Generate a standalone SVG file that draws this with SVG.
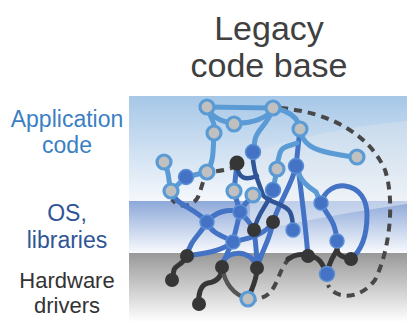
<svg xmlns="http://www.w3.org/2000/svg" width="407" height="322" viewBox="0 0 407 322">
<defs>
<linearGradient id="gApp" x1="0" y1="0" x2="0" y2="1"><stop offset="0" stop-color="#a6c7e7"/><stop offset="1" stop-color="#f5f8fc"/></linearGradient>
<linearGradient id="gOS" x1="0" y1="0" x2="0" y2="1"><stop offset="0" stop-color="#8da8d9"/><stop offset="1" stop-color="#f8fafd"/></linearGradient>
<linearGradient id="gHW" x1="0" y1="0" x2="0" y2="1"><stop offset="0" stop-color="#989898"/><stop offset="1" stop-color="#ffffff"/></linearGradient>
<style>
.t{font-family:"Liberation Sans",Arial,sans-serif;text-anchor:middle}
.lb{fill:none;stroke:#5b9bd5;stroke-width:5;stroke-linecap:round}
.mb{fill:none;stroke:#4472c4;stroke-width:5;stroke-linecap:round}
.nv{fill:none;stroke:#2f5597;stroke-width:4.5;stroke-linecap:round}
.dk{fill:none;stroke:#363636;stroke-width:5;stroke-linecap:round}
.dg{fill:none;stroke:#555;stroke-width:4.5;stroke-linecap:round}
.ds{fill:none;stroke:#484848;stroke-width:4;stroke-dasharray:8 6}
.a{fill:#c0c0c0;stroke:#5b9bd5;stroke-width:3.2}
.b{fill:#4472c4;stroke:#5a8fd6;stroke-width:1.5}
.d{fill:#363636}
</style>
</defs>
<g id="background">
<rect x="129" y="96" width="278" height="105" fill="url(#gApp)"/>
<path d="M260,150 Q330,128 407,121 L407,201 L260,201 Z" fill="#e3e9ee" opacity="0.35"/>
<rect x="129" y="201" width="278" height="52" fill="url(#gOS)"/>
<path d="M250,201 L407,201 L407,204 Q350,212 300,222 Q270,228 250,230 Z" fill="#e6ecf5" opacity="0.55"/>
<rect x="129" y="253" width="278" height="69" fill="url(#gHW)"/>
</g>
<g id="title">
<text class="t" x="269" y="40" font-size="34" fill="#404040">Legacy</text>
<text class="t" x="269" y="77" font-size="34" fill="#404040">code base</text>
</g>
<g id="labels">
<text class="t" x="67" y="127" font-size="23" fill="#3b7fc4">Application</text>
<text class="t" x="67" y="153" font-size="23" fill="#3b7fc4">code</text>
<text class="t" x="67" y="221" font-size="23" fill="#2f5597">OS,</text>
<text class="t" x="67" y="248" font-size="23" fill="#2f5597">libraries</text>
<text class="t" x="67" y="288" font-size="22" fill="#333">Hardware</text>
<text class="t" x="67" y="313" font-size="22" fill="#333">drivers</text>
</g>
<g id="connectors">
<path class="ds" d="M280,108 C330,112 370,135 385,170 C395,200 390,250 375,280 C360,300 335,300 328,285"/>
<path class="ds" d="M237,165 C230,170 220,171 207,172 C203,180 201,190 198,197 C195,203 188,207 180,205 C176,204 173,201 172,199"/>
<path class="ds" d="M290,258 C282,265 280,275 275,285 C270,295 265,298 252,300"/>
<path class="dk" d="M187,256 C183,265 175,265 174,270 L172,280"/>
<path class="dk" d="M222,267 C222,278 215,282 208,283 C200,285 198,295 199,304"/>
<path class="dg" d="M222,267 C225,285 235,295 248,299"/>
<path class="dk" d="M257,268 C257,280 252,288 248,299"/>
<path class="dk" d="M308,256 C300,253 295,255 288,259"/>
<path class="dk" d="M308,256 C318,256 322,262 327,274"/>
<path class="dk" d="M337,241 L337,250 C337,255 345,258 351,259"/>
<path class="dk" d="M337,250 C333,257 329,262 327,274"/>
<path class="mb" d="M300,129 L296,166"/>
<path class="mb" d="M296,166 C292,185 280,200 273,222"/>
<path class="mb" d="M298,166 C302,200 305,220 308,256"/>
<path class="mb" d="M321,203 C325,190 335,185 345,186 C360,188 367,200 367,215 C367,235 362,250 351,259"/>
<path class="mb" d="M321,203 C326,215 335,218 337,241"/>
<path class="mb" d="M171,191 C175,205 195,208 207,222"/>
<path class="mb" d="M207,222 C200,235 190,240 187,256"/>
<path class="mb" d="M207,222 C215,212 228,208 240,212"/>
<path class="mb" d="M207,222 C212,235 225,236 233,242"/>
<path class="mb" d="M187,256 C205,253 220,252 233,242"/>
<path class="mb" d="M234,191 L240,212"/>
<path class="mb" d="M253,195 C248,200 244,205 240,212"/>
<path class="mb" d="M240,212 C238,222 235,232 233,242"/>
<path class="mb" d="M240,212 C246,218 250,222 254,230"/>
<path class="mb" d="M233,242 C250,238 265,235 273,222"/>
<path class="mb" d="M233,242 C228,250 225,258 222,267"/>
<path class="mb" d="M222,264 C226,250 252,248 257,268"/>
<path class="mb" d="M254,230 C256,245 257,255 257,268"/>
<path class="mb" d="M273,222 C270,240 262,250 257,268"/>
<path class="mb" d="M237,163 L234,191"/>
<path class="nv" d="M237,165 C238,178 245,181 257,176"/>
<path class="nv" d="M253,152 C252,170 258,180 263,195 C268,203 285,203 290,212 C293,218 293,224 293,230"/>
<path class="nv" d="M273,190 C268,205 258,212 254,230"/>
<path class="lb" d="M207,107 L273,108"/>
<path class="lb" d="M207,107 C212,118 222,122 234,123 C252,124 268,118 273,108"/>
<path class="lb" d="M207,107 C210,118 216,122 214,133"/>
<path class="lb" d="M214,133 C213,150 214,162 207,172"/>
<path class="lb" d="M207,172 L186,177"/>
<path class="lb" d="M164,162 C170,172 168,182 171,191"/>
<path class="lb" d="M186,177 L171,191"/>
<path class="lb" d="M273,108 C268,125 256,130 255,140 L253,152"/>
<path class="lb" d="M273,108 C285,110 298,115 300,129"/>
<path class="lb" d="M300,129 C302,145 315,150 330,153 C345,156 350,157 357,157"/>
<path class="lb" d="M297,143 C290,146 282,146 280,153 C278,160 277,163 277,169"/>
<path class="lb" d="M277,169 L273,190"/>
<path class="lb" d="M296,166 C300,182 310,188 316,192 L321,203"/>
</g>
<g id="nodes">
<g id="app-nodes">
<circle class="a" cx="207" cy="107" r="7"/>
<circle class="a" cx="273" cy="108" r="7"/>
<circle class="a" cx="234" cy="124" r="7"/>
<circle class="a" cx="214" cy="133" r="7"/>
<circle class="a" cx="300" cy="129" r="7"/>
<circle class="a" cx="357" cy="157" r="7"/>
<circle class="a" cx="164" cy="162" r="7"/>
<circle class="a" cx="207" cy="172" r="7"/>
<circle class="a" cx="171" cy="191" r="7"/>
<circle class="a" cx="277" cy="169" r="7"/>
<circle class="a" cx="234" cy="191" r="7"/>
<circle class="a" cx="253" cy="195" r="7"/>
<circle class="a" cx="248" cy="299" r="7"/>
</g>
<g id="os-nodes">
<circle class="b" cx="253" cy="152" r="7.5"/>
<circle class="b" cx="186" cy="177" r="7.5"/>
<circle class="b" cx="296" cy="166" r="7.5"/>
<circle class="b" cx="273" cy="190" r="7.5"/>
<circle class="b" cx="321" cy="203" r="7"/>
<circle class="b" cx="207" cy="222" r="7"/>
<circle class="b" cx="240" cy="212" r="7"/>
<circle class="b" cx="233" cy="242" r="7"/>
<circle class="b" cx="293" cy="230" r="7"/>
<circle class="b" cx="337" cy="241" r="7"/>
<circle class="b" cx="327" cy="274" r="7.5"/>
</g>
<g id="hw-nodes">
<circle class="d" cx="237" cy="163" r="7.5"/>
<circle class="d" cx="254" cy="230" r="7"/>
<circle class="d" cx="273" cy="222" r="7"/>
<circle class="d" cx="187" cy="256" r="7"/>
<circle class="d" cx="172" cy="280" r="7"/>
<circle class="d" cx="222" cy="267" r="7"/>
<circle class="d" cx="257" cy="268" r="7"/>
<circle class="d" cx="199" cy="304" r="7"/>
<circle class="d" cx="308" cy="256" r="7"/>
<circle class="d" cx="351" cy="259" r="7"/>
</g>
</g>
</svg>
